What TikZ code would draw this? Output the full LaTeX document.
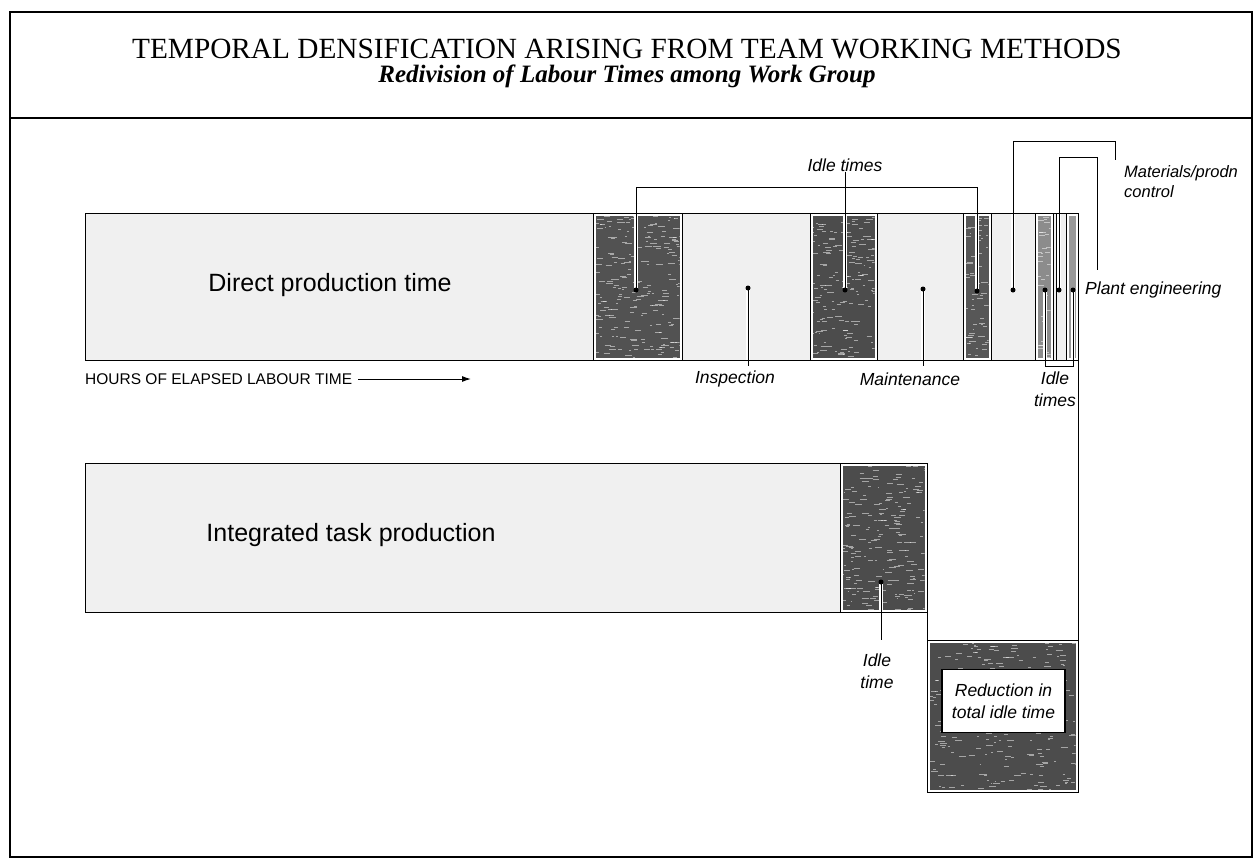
\documentclass[tikz,border=0pt]{standalone}
\usepackage{fontspec}
\setmainfont{Liberation Serif}
\setsansfont{Liberation Sans}
\usetikzlibrary{arrows.meta}
\newcommand\shadeblk[5]{%
  \fill[white] (#1,#3) rectangle (#2,#4);
  \fill[#5] (#1+2.5,#3+2.5) rectangle (#2-2.5,#4-2.5);}
\newcommand\speckle[5]{%
  \begin{scope}
  \clip (#1+2.5,#3+2.5) rectangle (#2-2.5,#4-2.5);
  \foreach \k in {1,...,#5}{%
    \pgfmathsetmacro\sx{#1+rnd*(#2-#1)}%
    \pgfmathsetmacro\sy{#3+rnd*(#4-#3)}%
    \pgfmathsetmacro\sl{1.5+rnd*6}%
    \draw[white, line width=0.7pt, opacity=0.5] (\sx,\sy) -- ++(\sl,0);
  }
  \end{scope}}
\newcommand\edgeblk[4]{\draw[edge] (#1,#3) rectangle (#2,#4);}
\newcommand\connpaths[1]{%
  \draw[#1] (i1) -- (636,187) -- (977,187) -- (i3);
  \draw[#1] (lidle.south) -- (i2);
  \draw[#1] (insp) -- (inspend);
  \draw[#1] (maint) -- (maintend);
  \draw[#1] (mat) -- (1013,141) -- (1115,141) -- (1115,160);
  \draw[#1] (plant) -- (1059,157) -- (1097,157) -- (1097,270);
  \draw[#1] (idA) -- (1045,366) -- (1073,366) -- (idB);
  \draw[#1] (idle2) -- (idle2end);
}
\begin{document}
\begin{tikzpicture}[x=1pt,y=-1pt,
  frame/.style={line width=1.6pt},
  edge/.style={line width=1pt},
  halo/.style={draw=white, line width=3.5pt},
  conn/.style={draw=black, line width=1pt},
  dot/.style={circle, fill=black, inner sep=0pt, minimum size=5pt},
  lab/.style={font=\fontsize{17.5}{22}\selectfont\sffamily\itshape, align=center, inner sep=0pt},
  big/.style={font=\fontsize{25}{28}\selectfont\sffamily, inner sep=0pt},
]
\useasboundingbox (0,0) rectangle (1256,860);
\pgfmathsetseed{4242}
% outer frame and header
\draw[frame] (10,12) rectangle (1252,857);
\draw[frame] (10,118) -- (1252,118);
\node (title) at (627,49) {\fontsize{29.3}{29}\selectfont TEMPORAL DENSIFICATION ARISING FROM TEAM WORKING METHODS};
\node (subtitle) at (627,76) {\fontsize{25}{25}\selectfont\bfseries\itshape Redivision of Labour Times among Work Group};

% ---- fills ----
\fill[black!6] (85,213) rectangle (1078,360);
\shadeblk{593}{682}{213}{360}{black!68}
\shadeblk{810}{877}{213}{360}{black!70}
\shadeblk{963}{991}{213}{360}{black!66}
\shadeblk{1035}{1053}{213}{360}{black!45}
\shadeblk{1066}{1078}{213}{360}{black!40}
\fill[black!6] (85,463) rectangle (927,612);
\shadeblk{840}{927}{463}{612}{black!70}
\shadeblk{927}{1078}{640}{792}{black!70}
\speckle{593}{682}{213}{360}{220}
\speckle{810}{877}{213}{360}{170}
\speckle{963}{991}{213}{360}{70}
\speckle{1035}{1053}{213}{360}{40}
\speckle{840}{927}{463}{612}{210}
\speckle{927}{1078}{640}{792}{300}

% ---- named points ----
\coordinate (i1) at (636,290);
\coordinate (i2) at (845,290);
\coordinate (i3) at (977,291);
\coordinate (insp) at (748,288);
\coordinate (inspend) at (748,366);
\coordinate (maint) at (923,289);
\coordinate (maintend) at (923,366);
\coordinate (mat) at (1013,290);
\coordinate (idA) at (1045,290);
\coordinate (plant) at (1059,290);
\coordinate (idB) at (1073,290);
\coordinate (idle2) at (881,582);
\coordinate (idle2end) at (881,640);

% ---- labels ----
\node[lab] (lidle) at (845,165) {Idle times};
\node[lab, font=\fontsize{16.5}{20}\selectfont\sffamily\itshape, anchor=west, align=left] (lmat) at (1124,182) {Materials/prodn\\control};
\node[lab, anchor=west] (lplant) at (1085,290) {Plant engineering};
\node[lab] (linsp) at (735,379) {Inspection};
\node[lab] (lmaint) at (910,379) {Maintenance};
\node[lab] (lidles) at (1055,389) {Idle\\times};
\node[lab] (lidle2) at (877,671) {Idle\\time};
\node[big] (ldirect) at (330,285) {Direct production time};
\node[big] (linteg) at (351,535) {Integrated task production};
\node[font=\fontsize{15.5}{18}\selectfont\sffamily, anchor=west, inner sep=0pt] (lhours) at (85,379) {HOURS OF ELAPSED LABOUR TIME};
\coordinate (arrowend) at (471,379);

% ---- halos ----
\connpaths{halo}

% ---- borders ----
\draw[edge] (85,213) rectangle (1078,360);
\edgeblk{593}{682}{213}{360}
\edgeblk{810}{877}{213}{360}
\edgeblk{963}{991}{213}{360}
\edgeblk{1035}{1053}{213}{360}
\draw[edge] (1056,213) -- (1056,360);
\edgeblk{1066}{1078}{213}{360}
\draw[edge] (85,463) rectangle (927,612);
\edgeblk{840}{927}{463}{612}
\draw[edge] (927,640) rectangle (1078,792);
\draw[edge] (1078,360) -- (1078,640);
\draw[edge] (927,612) -- (927,640);
\node[draw, line width=1.2pt, fill=white, minimum width=123pt, minimum height=63pt, inner sep=0pt] (redbox) at (1003.5,701) {};
\node[lab] (lred) at (redbox.center) {Reduction in\\total idle time};

% ---- connectors ----
\connpaths{conn}
\foreach \p in {i1,i2,i3,insp,maint,mat,idA,plant,idB,idle2} \node[dot] at (\p) {};
\draw[line width=1pt, -{Latex[length=9pt,width=6pt]}] ([xshift=6pt]lhours.east) -- (arrowend);
\end{tikzpicture}
\end{document}
